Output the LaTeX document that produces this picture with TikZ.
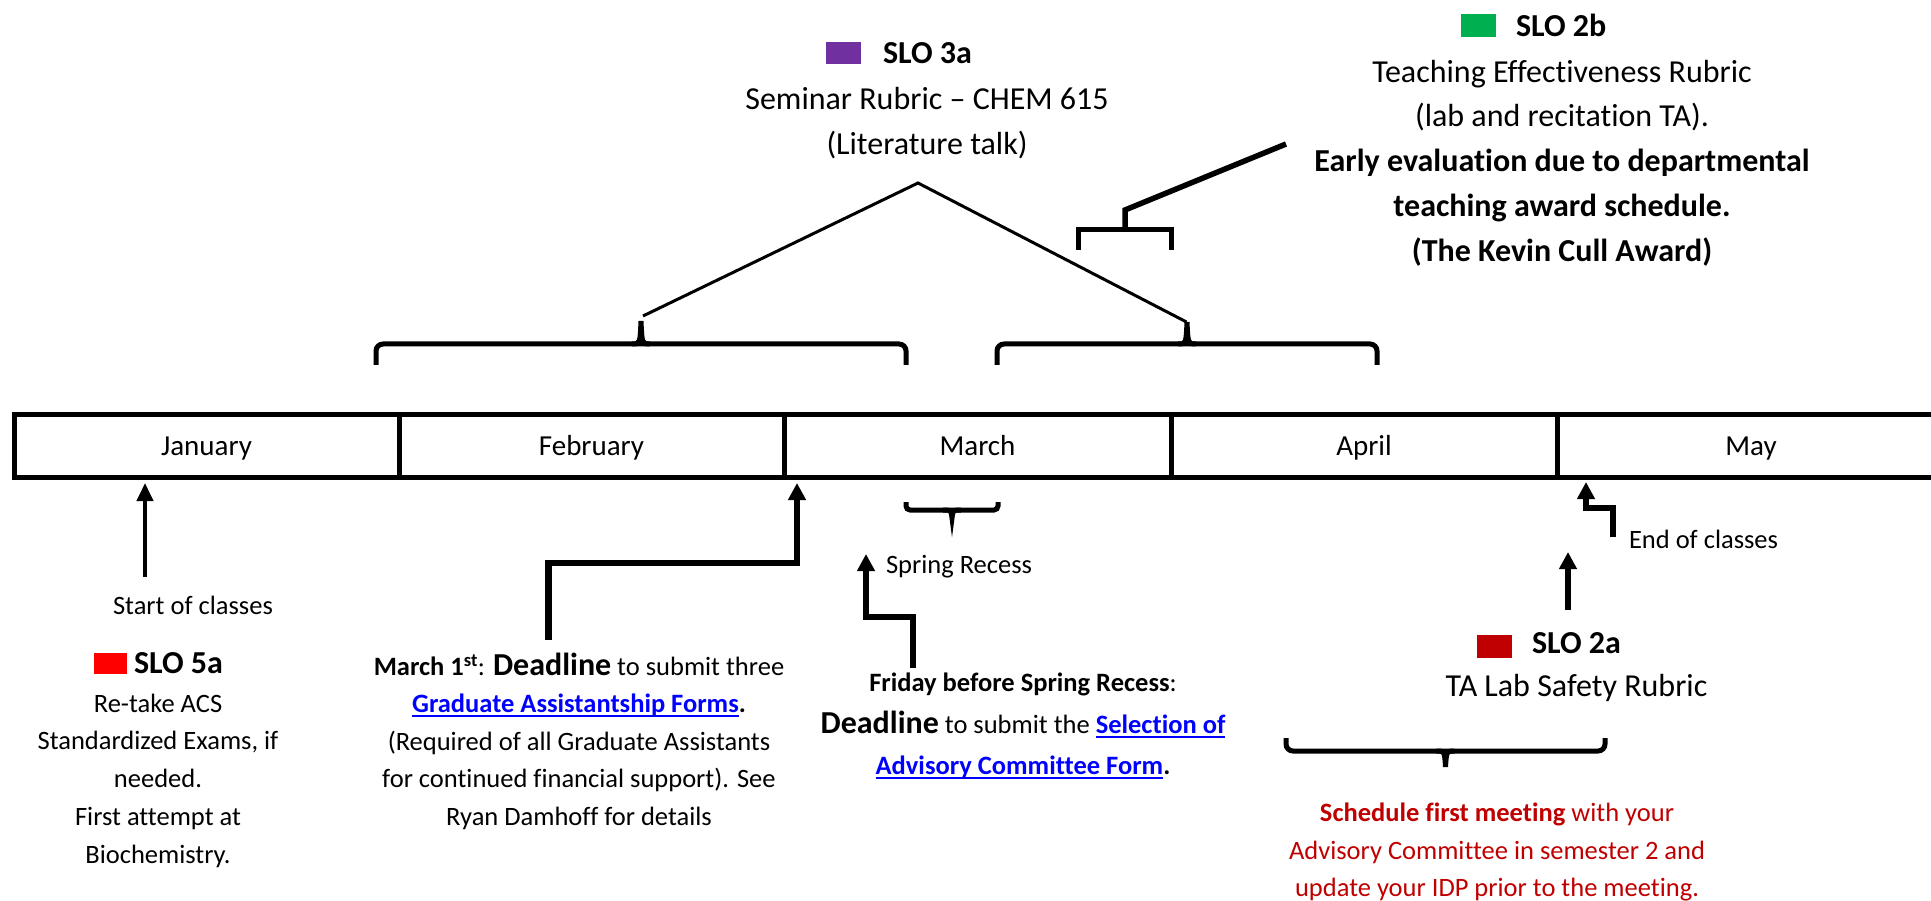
\documentclass[tikz,border=0pt]{standalone}
\usepackage{fontspec}
\setmainfont{Carlito}[Ligatures=NoCommon]
\usetikzlibrary{arrows.meta}
\definecolor{slopurple}{HTML}{7030A0}
\definecolor{slogreen}{HTML}{00B050}
\definecolor{slored}{HTML}{FF0000}
\definecolor{slodark}{HTML}{C00000}
\definecolor{linkblue}{HTML}{0000FF}
\newcommand\fsm{\fontsize{26.5}{37.5}\selectfont}
\newcommand\flg{\fontsize{32}{45}\selectfont}
\newcommand\fmo{\fontsize{29}{35}\selectfont}
\newcommand\lnk[1]{{\color{linkblue}\bfseries\setbox0\hbox{#1}\rlap{\rule[-4.5pt]{\wd0}{2pt}}\box0}}
\newcommand\mybrace[6]{% x1 x2 ylegs yh ytip radius
  \draw[brc,rounded corners=#6] (#1,#3) -- (#1,#4) -- (#2,#4) -- (#2,#3);
  \draw[brc] ({(#1+#2)/2-9},#4) .. controls ({(#1+#2)/2-1},#4) .. ({(#1+#2)/2},#5)
             .. controls ({(#1+#2)/2+1},#4) .. ({(#1+#2)/2+9},#4);
}
\tikzset{
  txt/.style={inner sep=0pt, outer sep=0pt, align=center, text=black},
  sq/.style={draw=none, inner sep=0pt, outer sep=0pt, minimum width=35pt, minimum height=22pt},
  month/.style={draw, line width=5pt, inner sep=0pt, outer sep=0pt, minimum height=63pt,
                text height=22pt, text depth=3pt, font=\fmo},
  brc/.style={line width=5pt},
  tent/.style={line width=3pt},
  thk/.style={line width=5.5pt},
  thinarr/.style={line width=4pt, -{Triangle[length=18pt,width=16pt]}},
  thkarr/.style={line width=6pt, -{Triangle[length=17pt,width=17pt]}},
}
\begin{document}
\begin{tikzpicture}[x=1pt,y=-1pt]
\useasboundingbox (0,0) rectangle (1931,901);

% timeline bar
\node[month, minimum width=385pt] (jan) at (206.5,445.5) {January};
\node[month, minimum width=385pt] (feb) at (591.5,445.5) {February};
\node[month, minimum width=387pt] (mar) at (977.5,445.5) {March};
\node[month, minimum width=386pt] (apr) at (1364,445.5) {April};
\node[month, minimum width=388pt] (may) at (1751,445.5) {May};

% SLO 3a
\node[sq, fill=slopurple] (sq3a) at (843.5,53) {};
\node[txt, font=\flg\bfseries, anchor=west] (h3a) at (883,53) {SLO 3a};
\node[txt, font=\flg] (b3a) at (927,123) {Seminar Rubric – CHEM 615\\(Literature talk)};

% SLO 2b
\node[sq, fill=slogreen, minimum height=23pt] (sq2b) at (1478.5,25.5) {};
\node[txt, font=\flg\bfseries, anchor=west] (h2b) at (1516,25) {SLO 2b};
\node[txt, font=\fontsize{32}{44.75}\selectfont] (b2b) at (1562,163) {Teaching Effectiveness Rubric\\(lab and recitation TA).\\\textbf{Early evaluation due to departmental}\\\textbf{teaching award schedule.}\\\textbf{(The Kevin Cull Award)}};

% SLO 5a
\node[sq, fill=slored, minimum width=33pt, minimum height=21pt] (sq5a) at (110,663) {};
\node[txt, font=\flg\bfseries, anchor=west] (h5a) at (134,663) {SLO 5a};
\node[txt, font=\fontsize{26.5}{37.75}\selectfont] (b5a) at (158,780.5) {Re-take ACS\\Standardized Exams, if\\needed.\\First attempt at\\Biochemistry.};

\node[txt, font=\fsm] (start) at (193,605) {Start of classes};

% March 1st
\node[txt, font=\fsm] (m1) at (579,741) {\textbf{March 1\textsuperscript{st}}: {\flg\textbf{Deadline}} to submit three\\\lnk{Graduate Assistantship Forms}\textbf{.}\\(Required of all Graduate Assistants\\for continued financial support). See\\Ryan Damhoff for details};

% Spring recess
\node[txt, font=\fsm, anchor=west] (spr) at (886,567) {Spring Recess};
\node[txt, font=\fontsize{26.5}{41.5}\selectfont] (fri) at (1023,726) {\textbf{Friday before Spring Recess}:\\{\flg\textbf{Deadline}} to submit the \lnk{Selection of}\\\lnk{Advisory Committee Form}\textbf{.}};

% End of classes
\node[txt, font=\fsm, anchor=west] (eoc) at (1629,539) {End of classes};

% SLO 2a
\node[sq, fill=slodark, minimum height=23pt] (sq2a) at (1494.5,646.5) {};
\node[txt, font=\flg\bfseries, anchor=west] (h2a) at (1532,643) {SLO 2a};
\node[txt, font=\flg] (b2a) at (1576.5,688) {TA Lab Safety Rubric};

\node[txt, font=\fsm, text=slodark] (mtg) at (1497,852) {\textbf{Schedule first meeting} with your\\Advisory Committee in semester 2 and\\update your IDP prior to the meeting.};

% tent for SLO 3a
\coordinate (apex) at (918,183);
\coordinate (tentL) at (643,316);
\coordinate (tentR) at (1186.5,322);
\draw[tent] (tentL) -- (apex) -- (tentR);
\mybrace{376}{906}{365}{344}{321}{7pt}
\mybrace{997}{1377}{365}{344}{322}{7pt}

% SLO 2b bracket
\coordinate (b2bend) at (1286,144);
\coordinate (b2bstem) at (1125,210);
\coordinate (b2bbar) at (1125,230);
\draw[thk] (b2bend) -- (b2bstem) -- (b2bbar);
\draw[brc] (1078,250) -- (1078,230) -- (1171,230) -- (1171,250);

% spring recess brace
\mybrace{906}{998}{502}{510}{518}{4pt}
% bottom brace
\mybrace{1286}{1605}{738}{751}{767}{7pt}

% arrows
\coordinate (startT) at (145,483);
\coordinate (startB) at (145,577);
\draw[thinarr] (startB) -- (startT);

\coordinate (m1B) at (548.5,640);
\coordinate (m1T) at (797,483);
\draw[thkarr, line width=6.5pt] (m1B) |- (797,563) -- (m1T);

\coordinate (sprB) at (913,668);
\coordinate (sprT) at (866,554);
\draw[thkarr] (sprB) -- (913,617) -- (866,617) -- (sprT);

\coordinate (eocB) at (1613,537);
\coordinate (eocT) at (1586,482);
\draw[thkarr] (eocB) -- (1613,508) -- (1586,508) -- (eocT);

\coordinate (s2aB) at (1568,610);
\coordinate (s2aT) at (1568,552);
\draw[thkarr] (s2aB) -- (s2aT);
\end{tikzpicture}
\end{document}
